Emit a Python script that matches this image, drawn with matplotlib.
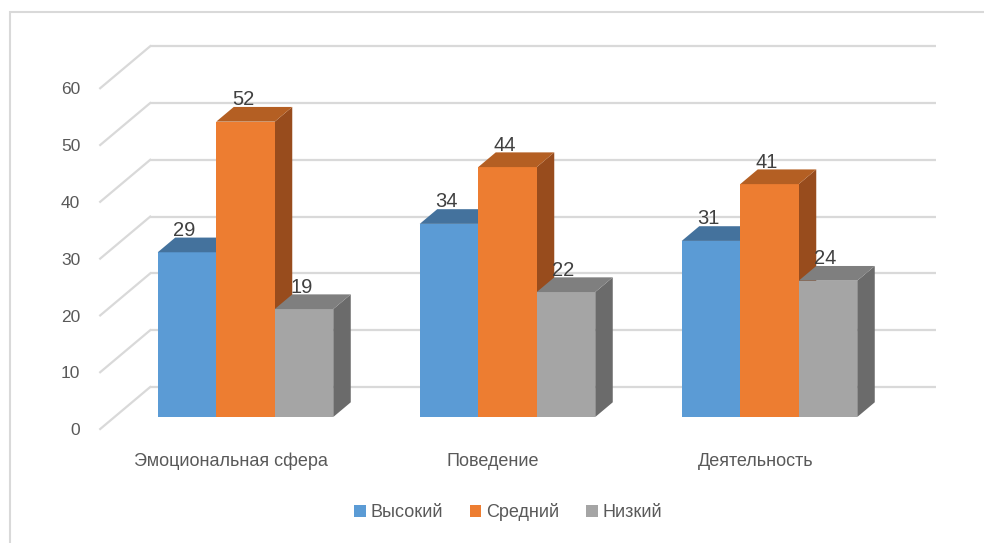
import numpy as np
import matplotlib.pyplot as plt
from matplotlib.patches import Polygon, Rectangle, Patch

plt.rcParams['font.family'] = ['Liberation Sans', 'DejaVu Sans']

categories = ['Эмоциональная сфера', 'Поведение', 'Деятельность']
series = ['Высокий', 'Средний', 'Низкий']
high = [29, 34, 31]
medium = [52, 44, 41]
low = [19, 22, 24]
yticks = [0, 10, 20, 30, 40, 50, 60]

front_colors = ['#5B9BD5', '#ED7D31', '#A5A5A5']
top_colors = ['#44729D', '#B45F23', '#7F7F7F']
side_colors = ['#3C6A94', '#984C1D', '#6B6B6B']
text_color = '#595959'
grid_color = '#D9D9D9'

W, H = 984, 543
fig = plt.figure(figsize=(W / 100, H / 100), dpi=100)
ax = fig.add_axes([0, 0, 1, 1])
ax.set_axis_off()

# pixel scale of the bar plane: 262 px per category, 5.68 px per unit
px_x, px_y = 262.0, 5.68
x0_px, y0_px = 245.5, H - 417
ax.set_xlim(-x0_px / px_x, (W - x0_px) / px_x)
ax.set_ylim(-y0_px / px_y, (H - y0_px) / px_y)

# depth of the floor in data units, and where the bars sit in it
dx, dy = 50 / px_x, 42 / px_y
f_front = -0.286
f_back = 0.714
f_bar = 0.35

x_left, x_right = -0.5, len(categories) - 0.5

# back wall and left wall gridlines
for v in yticks:
    ax.plot([x_left + f_back * dx, x_right + f_back * dx],
            [v + f_back * dy, v + f_back * dy],
            color=grid_color, lw=1.6, zorder=1, solid_capstyle='butt')
    ax.plot([x_left + f_front * dx, x_left + f_back * dx],
            [v + f_front * dy, v + f_back * dy],
            color=grid_color, lw=1.6, zorder=1)
    ax.text(x_left + f_front * dx - 0.076, v + f_front * dy - 0.3, str(v),
            ha='right', va='center', fontsize=12.5, color=text_color)

bw = 0.2233
x = np.arange(len(categories))
values = [high, medium, low]

for i in range(len(categories)):
    for k in range(len(series)):
        xc = x[i] + (k - 1) * bw
        v = values[k][i]
        ax.bar(xc, v, width=bw, color=front_colors[k], zorder=3 + k * 3,
               linewidth=0)
        l, r = xc - bw / 2, xc + bw / 2
        ox, oy = f_bar * dx, f_bar * dy
        ax.add_patch(Polygon([(l, v), (r, v), (r + ox, v + oy), (l + ox, v + oy)],
                             closed=True, facecolor=top_colors[k], lw=0,
                             zorder=4 + k * 3))
        ax.add_patch(Polygon([(r, 0), (r + ox, oy), (r + ox, v + oy), (r, v)],
                             closed=True, facecolor=side_colors[k], lw=0,
                             zorder=2 + k * 3))
        ax.text(xc - 0.01, v + f_bar * dy - 0.4, str(v), ha='center', va='bottom',
                fontsize=14.5, color='#404040', zorder=20)

for i, name in enumerate(categories):
    ax.text(x[i] + f_front * dx, f_front * dy - 32 / px_y, name,
            ha='center', va='center', fontsize=13, color=text_color)

handles = [Patch(facecolor=c, edgecolor='none') for c in front_colors]
fig.legend(handles, series, loc='center', bbox_to_anchor=(508 / W, 1 - 512 / H),
           ncol=3, frameon=False, fontsize=13, labelcolor=text_color,
           handlelength=0.65, handleheight=0.65, handletextpad=0.25,
           columnspacing=1.5)

# chart area border
fig.patches.append(Rectangle((10 / W, -0.1), 1.2, 1 - 12 / H + 0.1,
                             transform=fig.transFigure, fill=False,
                             edgecolor='#D9D9D9', lw=1.5))

fig.savefig('out.png', dpi=100, facecolor='white')
